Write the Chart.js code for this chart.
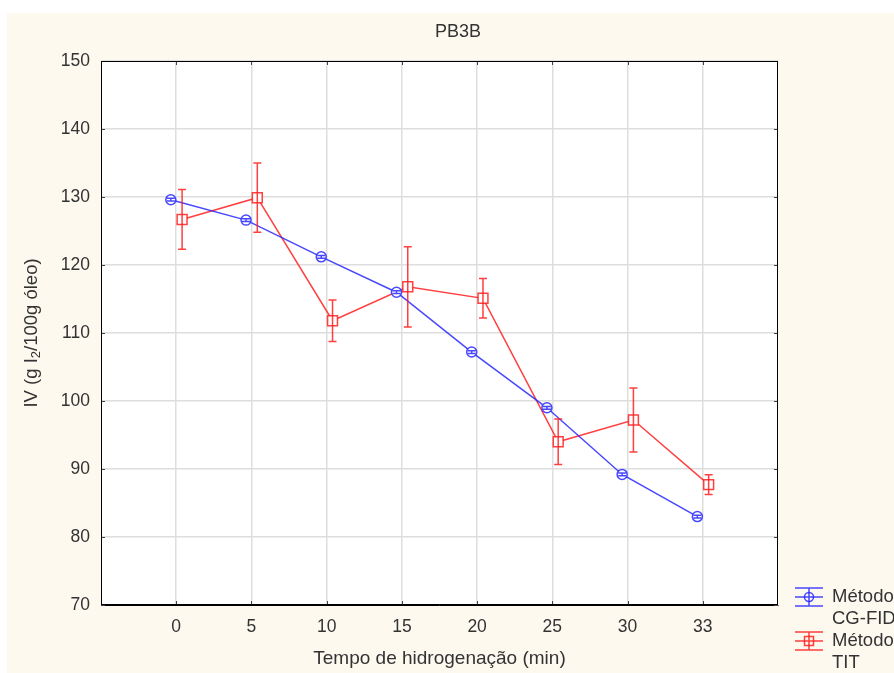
<!DOCTYPE html>
<html>
<head>
<meta charset="utf-8">
<title>PB3B</title>
<script src="https://cdn.jsdelivr.net/npm/chart.js@4.4.1/dist/chart.umd.min.js"></script>
<style>
  html, body { margin: 0; padding: 0; background: #fff; }
  #wrap { width: 894px; height: 673px; }
</style>
</head>
<body>
<div id="wrap"><canvas id="graph" width="894" height="673"></canvas></div>
<script>
// dados
const categories = ["0", "5", "10", "15", "20", "25", "30", "33"];
const cgFid = [129.6, 126.6, 121.2, 116.0, 107.2, 99.0, 89.2, 83.0];
const cgFidErr = [0.2, 0.2, 0.2, 0.2, 0.2, 0.2, 0.2, 0.2];
const tit = [126.7, 129.9, 111.8, 116.8, 115.1, 94.0, 97.2, 87.7];
const titErr = [4.4, 5.1, 3.05, 5.9, 2.9, 3.35, 4.7, 1.45];
const yTicks = [70, 80, 90, 100, 110, 120, 130, 140, 150];

const BLUE = "rgba(40, 40, 255, 0.85)";
const RED = "rgba(255, 30, 30, 0.85)";
const TEXT = "#333";
const FONT = "Liberation Sans, Arial, sans-serif";

// pequeno deslocamento horizontal de cada série em torno da categoria
const points = (vals, shift) => vals.map((v, i) => ({ x: i + 1 + shift, y: v }));

const bgPlugin = {
  id: "bg",
  beforeDraw(chart) {
    const { ctx, chartArea: a } = chart;
    ctx.save();
    ctx.fillStyle = "#fff";
    ctx.fillRect(0, 0, chart.width, chart.height);
    ctx.fillStyle = "#fdf9ef";
    ctx.fillRect(7, 13, chart.width - 7, chart.height - 13);
    ctx.fillStyle = "#fff";
    ctx.fillRect(a.left, a.top, a.right - a.left, a.bottom - a.top);
    ctx.restore();
  }
};

const errPlugin = {
  id: "errbars",
  afterDatasetsDraw(chart) {
    const { ctx } = chart;
    const ys = chart.scales.y;
    const errs = [cgFidErr, titErr];
    chart.data.datasets.forEach((ds, di) => {
      const meta = chart.getDatasetMeta(di);
      ctx.save();
      ctx.strokeStyle = ds.borderColor;
      ctx.lineWidth = 1.5;
      meta.data.forEach((pt, i) => {
        const v = ds.data[i].y;
        const top = ys.getPixelForValue(v + errs[di][i]);
        const bot = ys.getPixelForValue(v - errs[di][i]);
        ctx.beginPath();
        ctx.moveTo(pt.x, top); ctx.lineTo(pt.x, bot);
        ctx.moveTo(pt.x - 4, top); ctx.lineTo(pt.x + 4, top);
        ctx.moveTo(pt.x - 4, bot); ctx.lineTo(pt.x + 4, bot);
        ctx.stroke();
      });
      ctx.restore();
    });
  }
};

const framePlugin = {
  id: "frame",
  afterDraw(chart) {
    const { ctx, chartArea: a } = chart;
    const xs = chart.scales.x, ys = chart.scales.y;
    ctx.save();
    // ticks para dentro
    ctx.strokeStyle = "#444";
    ctx.lineWidth = 1;
    ctx.beginPath();
    xs.ticks.forEach(t => {
      const px = Math.round(xs.getPixelForValue(t.value)) + 0.5;
      ctx.moveTo(px, a.bottom); ctx.lineTo(px, a.bottom - 4);
      ctx.moveTo(px, a.top); ctx.lineTo(px, a.top + 4);
    });
    yTicks.forEach(v => {
      const py = Math.round(ys.getPixelForValue(v)) + 0.5;
      ctx.moveTo(a.left, py); ctx.lineTo(a.left + 4, py);
      ctx.moveTo(a.right, py); ctx.lineTo(a.right - 4, py);
    });
    ctx.stroke();
    ctx.strokeStyle = "#000";
    ctx.strokeRect(a.left + 0.5, a.top + 0.5, a.right - a.left - 1, a.bottom - a.top - 1);

    // título
    ctx.fillStyle = TEXT;
    ctx.font = "18px " + FONT;
    ctx.textAlign = "center";
    ctx.textBaseline = "middle";
    ctx.fillText("PB3B", 458, 32);

    // título do eixo x
    ctx.font = "19px " + FONT;
    ctx.fillText("Tempo de hidrogenação (min)", (a.left + a.right) / 2, 659);

    // título do eixo y com subscrito
    ctx.save();
    ctx.translate(32, (a.top + a.bottom) / 2);
    ctx.rotate(-Math.PI / 2);
    const parts = [["IV (g I", 18.5, 0], ["2", 13, 4], ["/100g óleo)", 18.5, 0]];
    let total = 0;
    parts.forEach(p => { ctx.font = p[1] + "px " + FONT; total += ctx.measureText(p[0]).width; });
    let x = -total / 2;
    ctx.textAlign = "left";
    parts.forEach(p => {
      ctx.font = p[1] + "px " + FONT;
      ctx.fillText(p[0], x, p[2]);
      x += ctx.measureText(p[0]).width;
    });
    ctx.restore();

    // legenda
    const items = [
      { color: BLUE, shape: "circle", lines: ["Método", "CG-FID"], y: 597 },
      { color: RED, shape: "square", lines: ["Método", "TIT"], y: 641 }
    ];
    items.forEach(it => {
      ctx.strokeStyle = it.color;
      ctx.lineWidth = 1.5;
      ctx.beginPath();
      [-9, 0, 9].forEach(d => { ctx.moveTo(795, it.y + d); ctx.lineTo(823, it.y + d); });
      ctx.moveTo(809, it.y - 9); ctx.lineTo(809, it.y + 9);
      ctx.stroke();
      ctx.beginPath();
      if (it.shape === "circle") ctx.arc(809, it.y, 4.5, 0, Math.PI * 2);
      else ctx.rect(804.5, it.y - 4.5, 9, 9);
      ctx.stroke();
      ctx.fillStyle = TEXT;
      ctx.font = "18.5px " + FONT;
      ctx.textAlign = "left";
      ctx.fillText(it.lines[0], 832, it.y);
      ctx.fillText(it.lines[1], 832, it.y + 22);
    });
    ctx.restore();
  }
};

new Chart(document.getElementById("graph").getContext("2d"), {
  type: "line",
  data: {
    datasets: [
      {
        label: "Método CG-FID",
        data: points(cgFid, -0.072),
        borderColor: BLUE,
        backgroundColor: "#fff",
        borderWidth: 1.5,
        pointStyle: "circle",
        pointRadius: 5,
        pointBorderWidth: 1.5,
        tension: 0
      },
      {
        label: "Método TIT",
        data: points(tit, 0.078),
        borderColor: RED,
        backgroundColor: "#fff",
        borderWidth: 1.5,
        pointStyle: "rect",
        pointRadius: 7,
        pointBorderWidth: 1.5,
        tension: 0
      }
    ]
  },
  options: {
    responsive: false,
    animation: false,
    events: [],
    layout: { padding: { left: 0, top: 61, right: 116, bottom: 0 } },
    plugins: { legend: { display: false }, title: { display: false }, tooltip: { enabled: false } },
    scales: {
      x: {
        type: "linear",
        min: 0,
        max: 9,
        afterBuildTicks: s => { s.ticks = categories.map((c, i) => ({ value: i + 1 })); },
        afterFit: s => { s.height = 68; },
        ticks: {
          callback: v => categories[v - 1],
          color: TEXT,
          font: { family: FONT, size: 17.5 },
          padding: 12,
          maxRotation: 0,
          autoSkip: false
        },
        grid: { color: "#dedede", drawTicks: false, lineWidth: 1.5 },
        border: { display: true, color: "#000", width: 1 }
      },
      y: {
        min: 70,
        max: 150,
        afterBuildTicks: s => { s.ticks = yTicks.map(v => ({ value: v })); },
        afterFit: s => { s.width = 101; },
        ticks: {
          color: TEXT,
          font: { family: FONT, size: 17.5 },
          padding: 11
        },
        grid: { color: "#dedede", drawTicks: false, lineWidth: 1.5 },
        border: { display: true, color: "#000", width: 1 }
      }
    }
  },
  plugins: [bgPlugin, errPlugin, framePlugin]
});
</script>
</body>
</html>
